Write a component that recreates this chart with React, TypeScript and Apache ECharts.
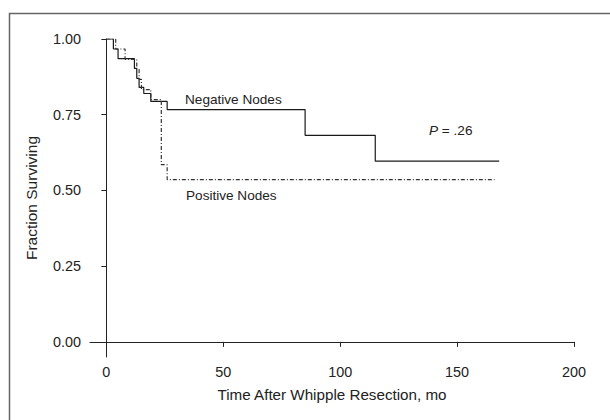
import React, { useEffect, useRef } from "react";
import * as echarts from "echarts";

// Kaplan-Meier step points: [months, fraction surviving]
const negativeTimes = [0, 3, 5, 12, 13, 14, 16, 19, 26, 85, 115, 168];
const negativeSurv = [1.0, 0.967, 0.935, 0.903, 0.87, 0.84, 0.82, 0.794, 0.767, 0.682, 0.597, 0.597];
const positiveTimes = [0, 4, 8, 13, 14, 15, 19, 23.5, 26, 166];
const positiveSurv = [1.0, 0.967, 0.933, 0.9, 0.867, 0.833, 0.8, 0.585, 0.536, 0.536];

const xTicks = [0, 50, 100, 150, 200];
const yTicks = [0, 0.25, 0.5, 0.75, 1.0];

const FONT = "'Liberation Sans', Arial, Helvetica, sans-serif";

export default function App() {
  const ref = useRef<HTMLDivElement>(null);
  useEffect(() => {
    if (!ref.current) return;
    const chart = echarts.init(ref.current, null, { renderer: "svg" });
    const neg = negativeTimes.map((t, i) => [t, negativeSurv[i]]);
    const pos = positiveTimes.map((t, i) => [t, positiveSurv[i]]);
    chart.setOption({
      animation: false,
      backgroundColor: "#ffffff",
      textStyle: { fontFamily: FONT },
      grid: { left: 90, right: 36, top: 39, bottom: 63 },
      xAxis: {
        type: "value",
        min: -7,
        max: 200,
        name: "Time After Whipple Resection, mo",
        nameLocation: "middle",
        nameGap: 30,
        nameTextStyle: { fontSize: 15.2, color: "#222", fontFamily: FONT },
        axisLine: { show: true, lineStyle: { color: "#222", width: 1 } },
        axisTick: { show: true, length: 5, customValues: xTicks, lineStyle: { color: "#222" } },
        axisLabel: { customValues: xTicks, fontSize: 14.4, color: "#222", margin: 8, fontFamily: FONT },
        splitLine: { show: false },
      },
      yAxis: {
        type: "value",
        min: -0.05,
        max: 1.0,
        name: "Fraction Surviving",
        nameLocation: "middle",
        nameGap: 51,
        nameTextStyle: { fontSize: 15.5, color: "#222", fontFamily: FONT },
        axisLine: { show: true, lineStyle: { color: "#222", width: 1 } },
        axisTick: { show: true, length: 5, customValues: yTicks, lineStyle: { color: "#222" } },
        axisLabel: {
          customValues: yTicks,
          fontSize: 14.4,
          color: "#222",
          margin: 9,
          fontFamily: FONT,
          formatter: (v: number) => v.toFixed(2),
        },
        splitLine: { show: false },
      },
      series: [
        {
          name: "Negative Nodes",
          type: "line",
          step: "end",
          data: neg,
          symbol: "none",
          lineStyle: { color: "#1a1a1a", width: 1.2, type: "solid" },
        },
        {
          name: "Positive Nodes",
          type: "line",
          step: "end",
          data: pos,
          symbol: "none",
          lineStyle: { color: "#333", width: 1.2, type: [4, 2, 1, 2] },
        },
      ],
      graphic: [
        {
          type: "rect",
          shape: { x: 9.5, y: 13.5, width: 700, height: 500 },
          style: { fill: "none", stroke: "#666", lineWidth: 1.5 },
          silent: true,
        },
        {
          type: "text",
          left: 185,
          top: 92,
          style: { text: "Negative Nodes", fontSize: 13.6, fill: "#222", fontFamily: FONT },
        },
        {
          type: "text",
          left: 186,
          top: 188,
          style: { text: "Positive Nodes", fontSize: 13.6, fill: "#222", fontFamily: FONT },
        },
        {
          type: "text",
          left: 429,
          top: 123,
          style: {
            text: "{i|P} = .26",
            fontSize: 13.6,
            fill: "#222",
            fontFamily: FONT,
            rich: { i: { fontStyle: "italic", fontSize: 13.6, fill: "#222", fontFamily: FONT } },
          },
        },
      ],
    });
    return () => chart.dispose();
  }, []);
  return (
    <div
      ref={ref}
      style={{ position: "fixed", left: 0, top: 0, width: 610, height: 420, background: "#fff" }}
    />
  );
}
